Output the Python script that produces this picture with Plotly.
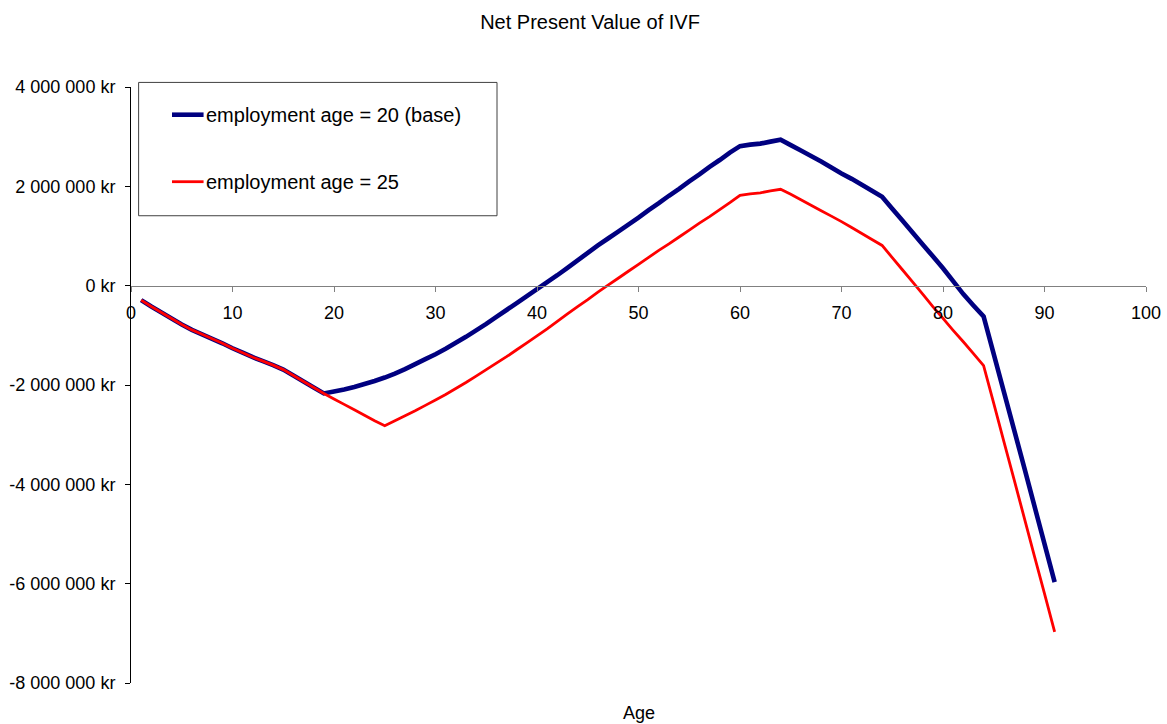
import plotly.graph_objects as go

# Age of the woman (years)
ages = list(range(1, 92))

# Net present value (kr), employment starting at age 20
npv_base = [
    -290000, -420000, -540000, -660000, -780000, -890000, -980000, -1070000, -1160000, -1260000,
    -1350000, -1440000, -1520000, -1600000, -1690000, -1810000, -1930000, -2050000, -2170000, -2130000,
    -2090000, -2040000, -1980000, -1920000, -1850000, -1770000, -1680000, -1580000, -1480000, -1380000,
    -1270000, -1150000, -1030000, -900000, -770000, -630000, -490000, -350000, -210000, -70000,
    70000, 210000, 360000, 510000, 660000, 810000, 950000, 1090000, 1230000, 1370000,
    1520000, 1660000, 1810000, 1950000, 2100000, 2240000, 2390000, 2530000, 2680000, 2810000,
    2840000, 2860000, 2900000, 2940000, 2830000, 2720000, 2610000, 2500000, 2380000, 2260000,
    2150000, 2030000, 1910000, 1790000, 1550000, 1310000, 1070000, 830000, 590000, 350000,
    90000, -170000, -400000, -620000, -1380000, -2140000, -2900000, -3660000, -4430000, -5200000,
    -5970000,
]

# Net present value (kr), employment starting at age 25
npv_25 = [
    -290000, -420000, -540000, -660000, -780000, -890000, -980000, -1070000, -1160000, -1260000,
    -1350000, -1440000, -1520000, -1600000, -1690000, -1810000, -1930000, -2050000, -2170000, -2280000,
    -2390000, -2500000, -2610000, -2720000, -2820000, -2720000, -2620000, -2520000, -2410000, -2300000,
    -2190000, -2070000, -1950000, -1820000, -1690000, -1560000, -1430000, -1290000, -1150000, -1010000,
    -870000, -720000, -570000, -420000, -280000, -130000, 10000, 150000, 290000, 430000,
    570000, 710000, 840000, 980000, 1120000, 1260000, 1390000, 1530000, 1670000, 1820000,
    1850000, 1870000, 1910000, 1940000, 1840000, 1730000, 1620000, 1510000, 1400000, 1290000,
    1170000, 1050000, 930000, 810000, 565000, 320000, 75000, -170000, -420000, -660000,
    -900000, -1130000, -1370000, -1610000, -2370000, -3140000, -3900000, -4670000, -5440000, -6200000,
    -6970000,
]

y_tick_vals = [-8000000, -6000000, -4000000, -2000000, 0, 2000000, 4000000]
y_tick_text = ["-8 000 000 kr", "-6 000 000 kr", "-4 000 000 kr", "-2 000 000 kr",
               "0 kr", "2 000 000 kr", "4 000 000 kr"]
x_tick_vals = [0, 10, 20, 30, 40, 50, 60, 70, 80, 90, 100]

series = [
    ("employment age = 20 (base)", npv_base, "#000080", 4.6),
    ("employment age = 25", npv_25, "#FF0000", 2.8),
]

FONT = "Liberation Sans, Arial, sans-serif"

fig = go.Figure()
for name, vals, color, width in series:
    fig.add_trace(go.Scatter(
        x=ages, y=vals, mode="lines", name=name,
        line=dict(color=color, width=width, simplify=False),
        showlegend=False,
    ))

# Boxed legend in the upper left of the plot area
fig.add_shape(type="rect", xref="paper", yref="paper",
              x0=0.0075, x1=0.3606, y0=0.784, y1=1.0077,
              line=dict(color="#404040", width=1), fillcolor="white", layer="above")
legend_rows = [0.9535, 0.8411]
for (name, _, color, width), ly in zip(series, legend_rows):
    fig.add_shape(type="line", xref="paper", yref="paper",
                  x0=0.0404, x1=0.0715, y0=ly, y1=ly,
                  line=dict(color=color, width=width), layer="above")
    fig.add_annotation(text=name, xref="paper", yref="paper", x=0.0718, y=ly,
                       xanchor="left", yanchor="middle", showarrow=False,
                       font=dict(family=FONT, size=20, color="black"))

fig.add_annotation(text="Age", xref="paper", yref="paper", x=0.5, y=-0.0498,
                   xanchor="center", yanchor="middle", showarrow=False,
                   font=dict(family=FONT, size=18, color="black"))

fig.update_layout(
    width=1167, height=724,
    margin=dict(l=131, r=21, t=87, b=41, autoexpand=False),
    paper_bgcolor="white", plot_bgcolor="white",
    font=dict(family=FONT, size=18, color="black"),
    title=dict(text="Net Present Value of IVF", x=0.5056, xanchor="center",
               y=1 - 22 / 724, yanchor="middle", yref="container",
               font=dict(family=FONT, size=20, color="black")),
    xaxis=dict(range=[0, 100], tickvals=x_tick_vals, ticks="outside", ticklen=5,
               tickcolor="#808080", showline=True, linecolor="#808080", linewidth=1,
               showgrid=False, zeroline=False, anchor="free", position=2 / 3,
               ticklabelstandoff=6, tickfont=dict(size=18), automargin=False),
    yaxis=dict(range=[-8000000, 4000000], tickvals=y_tick_vals, ticktext=y_tick_text,
               ticks="outside", ticklen=5, tickcolor="black", showline=True,
               linecolor="black", linewidth=1, showgrid=False, zeroline=False,
               ticklabelstandoff=6, tickfont=dict(size=18), automargin=False),
)

fig.write_html("out.html")
